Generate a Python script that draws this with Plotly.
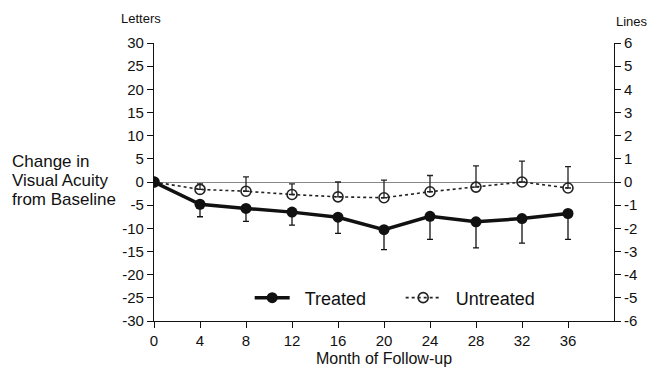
import plotly.graph_objects as go

months = [0, 4, 8, 12, 16, 20, 24, 28, 32, 36]
treated = [0, -4.8, -5.7, -6.5, -7.6, -10.3, -7.4, -8.6, -7.9, -6.8]
treated_err = [0, 2.7, 2.8, 2.8, 3.5, 4.3, 5.0, 5.6, 5.3, 5.6]
untreated = [0, -1.6, -2.0, -2.7, -3.2, -3.4, -2.1, -1.1, 0.0, -1.3]
untreated_err = [0, 1.2, 3.1, 2.3, 3.2, 3.8, 3.5, 4.6, 4.5, 4.6]

letter_ticks = [30, 25, 20, 15, 10, 5, 0, -5, -10, -15, -20, -25, -30]
letter_labels = ["30", "25", "20", "15", "10", "5", "0", "-5", "-10", "-15", "-20", "-25", "-30"]
line_ticks = [6, 5, 4, 3, 2, 1, 0, -1, -2, -3, -4, -5, -6]
line_labels = ["6", "5", "4", "3", "2", "1", "0", "-1", "-2", "-3", "-4", "-5", "-6"]
month_ticks = [0, 4, 8, 12, 16, 20, 24, 28, 32, 36]
ylabel_lines = ["Change in", "Visual Acuity", "from Baseline"]

FONT = "Liberation Sans, Arial, sans-serif"
PAD = "\u00a0\u00a0"

fig = go.Figure()
fig.add_trace(go.Scatter(
    x=months, y=untreated, name=PAD + "Untreated", mode="lines+markers",
    line=dict(color="#222", width=1.6, dash="dot"),
    marker=dict(symbol="circle-open", size=10, color="#222", line=dict(width=1.6)),
    error_y=dict(type="data", symmetric=False, array=untreated_err,
                 arrayminus=[0] * len(months), color="#222", thickness=1.3, width=3),
))
fig.add_trace(go.Scatter(
    x=months, y=treated, name=PAD + "Treated", mode="lines+markers",
    line=dict(color="#111", width=3.5),
    marker=dict(symbol="circle", size=11, color="#111"),
    error_y=dict(type="data", symmetric=False, array=[0] * len(months),
                 arrayminus=treated_err, color="#111", thickness=1.3, width=3),
))
fig.add_trace(go.Scatter(x=[0], y=[0], yaxis="y2", mode="markers",
                         marker=dict(opacity=0), showlegend=False, hoverinfo="skip"))

fig.update_layout(
    width=651, height=369,
    margin=dict(l=154, r=37, t=43, b=48),
    paper_bgcolor="white", plot_bgcolor="white",
    font=dict(family=FONT, color="#111", size=15),
    showlegend=True,
    legend=dict(orientation="h", x=0.208, y=0.083, xanchor="left", yanchor="middle",
                traceorder="reversed", font=dict(size=18), bgcolor="rgba(0,0,0,0)",
                itemwidth=35, entrywidth=101, entrywidthmode="pixels"),
    xaxis=dict(range=[0, 40], tickvals=month_ticks, showline=True, linecolor="#111",
               linewidth=1.2, ticks="outside", ticklen=6, tickcolor="#111",
               showgrid=False, zeroline=False, tickfont=dict(size=15), automargin=False,
               title=dict(text="Month of Follow-up", font=dict(size=16), standoff=4)),
    yaxis=dict(range=[-30, 30], tickvals=letter_ticks, ticktext=letter_labels,
               showline=True, linecolor="#111", linewidth=1.2, ticks="outside",
               ticklen=6, tickcolor="#111", showgrid=False, automargin=False,
               zeroline=True, zerolinecolor="#888", zerolinewidth=1,
               tickfont=dict(size=15)),
    yaxis2=dict(range=[-6, 6], tickvals=line_ticks, ticktext=line_labels,
                overlaying="y", side="right", showline=True, linecolor="#111",
                linewidth=1.2, ticks="outside", ticklen=6, tickcolor="#111",
                showgrid=False, zeroline=False, tickfont=dict(size=15), automargin=False),
)

fig.add_annotation(text="Letters", xref="paper", yref="paper", x=0, y=1,
                   xanchor="center", yanchor="middle", yshift=25, xshift=-13,
                   showarrow=False, font=dict(size=13))
fig.add_annotation(text="Lines", xref="paper", yref="paper", x=1, y=1,
                   xanchor="right", yanchor="middle", yshift=22, xshift=36,
                   showarrow=False, font=dict(size=13))
for i, txt in enumerate(ylabel_lines):
    fig.add_annotation(text=txt, xref="paper", yref="paper", x=0, y=0.5,
                       xanchor="left", yanchor="middle", xshift=-144,
                       yshift=21 - 19 * i, showarrow=False, font=dict(size=17))

fig.write_html("out.html", config={"displayModeBar": False},
               post_script="document.body.style.margin='0';document.body.style.padding='0';")
